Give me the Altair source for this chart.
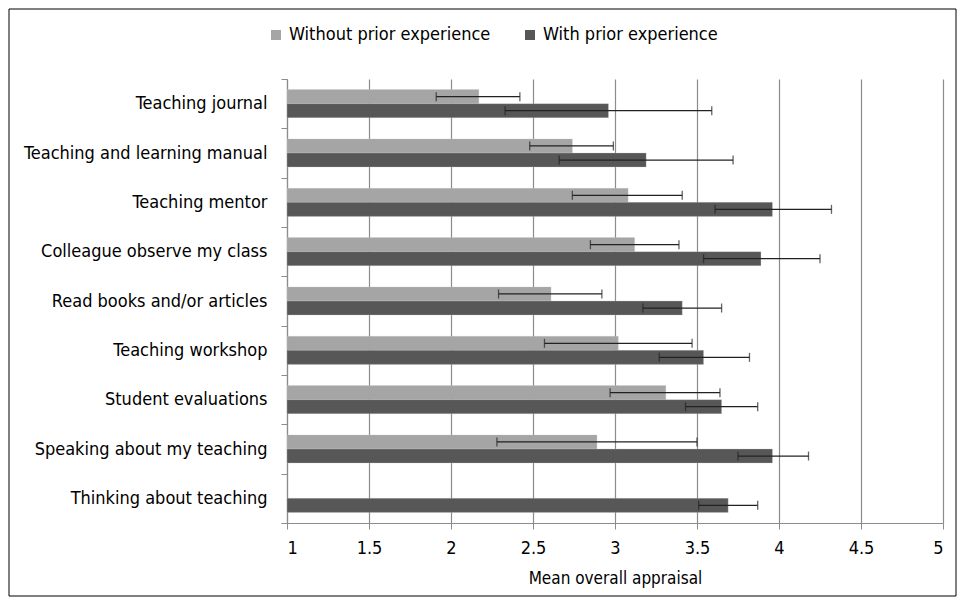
import altair as alt
import pandas as pd

categories = [
    "Teaching journal",
    "Teaching and learning manual",
    "Teaching mentor",
    "Colleague observe my class",
    "Read books and/or articles",
    "Teaching workshop",
    "Student evaluations",
    "Speaking about my teaching",
    "Thinking about teaching",
]
groups = ["Without prior experience", "With prior experience"]

without_mean = [2.17, 2.74, 3.08, 3.12, 2.61, 3.02, 3.31, 2.89, None]
without_lo = [1.91, 2.48, 2.74, 2.85, 2.29, 2.57, 2.97, 2.28, None]
without_hi = [2.42, 2.99, 3.41, 3.39, 2.92, 3.47, 3.64, 3.50, None]

with_mean = [2.96, 3.19, 3.96, 3.89, 3.41, 3.54, 3.65, 3.96, 3.69]
with_lo = [2.33, 2.66, 3.61, 3.54, 3.17, 3.27, 3.43, 3.75, 3.51]
with_hi = [3.59, 3.72, 4.32, 4.25, 3.65, 3.82, 3.87, 4.18, 3.87]

x_ticks = [1, 1.5, 2, 2.5, 3, 3.5, 4, 4.5, 5]

rows = []
for i, c in enumerate(categories):
    for g, m, lo, hi in [
        (groups[0], without_mean[i], without_lo[i], without_hi[i]),
        (groups[1], with_mean[i], with_lo[i], with_hi[i]),
    ]:
        if m is None:
            continue
        rows.append({"category": c, "group": g, "mean": m, "lo": lo, "hi": hi})
df = pd.DataFrame(rows)

FONT = "'Liberation Sans Narrow', 'DejaVu Sans Condensed', 'Liberation Sans', sans-serif"
GRID = "#8c8c8c"

y_enc = alt.Y(
    "category:N",
    sort=categories,
    scale=alt.Scale(paddingInner=0, paddingOuter=0),
    axis=alt.Axis(
        title=None,
        labelFontSize=18,
        labelColor="black",
        labelLimit=320,
        labelPadding=14,
        tickBand="extent",
        tickSize=6,
        tickColor=GRID,
        domainColor=GRID,
        domainWidth=1.2,
        grid=False,
    ),
)
yoff = alt.YOffset("group:N", sort=groups, scale=alt.Scale(paddingInner=0, paddingOuter=0.755))

x_scale = alt.Scale(domain=[1, 5], nice=False, zero=False)

bars = alt.Chart(df).mark_bar(stroke="#c8c8c8", strokeWidth=0.6, strokeOpacity=0.5).encode(
    x=alt.X(
        "mean:Q",
        scale=x_scale,
        axis=alt.Axis(
            values=x_ticks,
            format="~g",
            title="Mean overall appraisal",
            titleFontSize=17,
            titleFontWeight="normal",
            titleColor="black",
            titlePadding=13,
            labelFontSize=18,
            labelColor="black",
            labelPadding=10,
            tickSize=6,
            tickColor=GRID,
            domainColor=GRID,
            domainWidth=1.2,
            grid=True,
            gridColor=GRID,
            gridWidth=1.2,
        ),
    ),
    x2=alt.datum(1),
    y=y_enc,
    yOffset=yoff,
    color=alt.Color(
        "group:N",
        sort=groups,
        scale=alt.Scale(domain=groups, range=["#a5a5a5", "#575757"]),
        legend=alt.Legend(
            title=None,
            orient="none",
            direction="horizontal",
            legendX=-20,
            legendY=-53,
            symbolType="square",
            symbolSize=100,
            symbolStrokeWidth=0,
            labelFontSize=18,
            labelColor="black",
            labelOffset=4,
            labelLimit=400,
            columnPadding=30,
        ),
    ),
)

err = alt.Chart(df).mark_rule(color="#222222", strokeWidth=1.3).encode(
    x=alt.X("lo:Q", scale=x_scale),
    x2="hi:Q",
    y=alt.Y("category:N", sort=categories),
    yOffset=yoff,
)
cap_lo = alt.Chart(df).mark_tick(color="#222222", thickness=1.3, size=9).encode(
    x=alt.X("lo:Q", scale=x_scale),
    y=alt.Y("category:N", sort=categories),
    yOffset=yoff,
)
cap_hi = alt.Chart(df).mark_tick(color="#222222", thickness=1.3, size=9).encode(
    x=alt.X("hi:Q", scale=x_scale),
    y=alt.Y("category:N", sort=categories),
    yOffset=yoff,
)

frame = alt.Chart(alt.Data(values=[{}])).mark_rect(
    filled=False, stroke="black", strokeWidth=1
).encode(
    x=alt.value(-278), x2=alt.value(669), y=alt.value(-70), y2=alt.value(517)
)

chart = (
    alt.layer(bars, err, cap_lo, cap_hi, frame)
    .properties(
        width=656,
        height=444,
        autosize=alt.AutoSizeParams(type="none"),
        padding={"left": 279, "top": 71, "right": 14, "bottom": 74},
    )
    .configure(font=FONT)
    .configure_view(stroke=None)
)

chart.save("out.html", embed_options={"renderer": "svg", "actions": False})
